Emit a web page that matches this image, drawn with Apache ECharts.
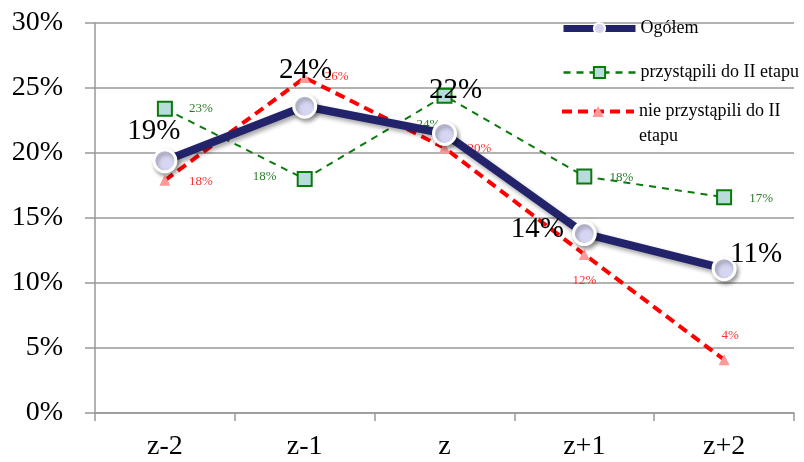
<!DOCTYPE html>
<html><head><meta charset="utf-8">
<script src="https://cdn.jsdelivr.net/npm/echarts@6/dist/echarts.min.js"></script>
<style>html,body{margin:0;padding:0;background:#fff}#c{width:804px;height:462px}</style>
</head><body><div id="c"></div>
<script>
const categories = ['z-2', 'z-1', 'z', 'z+1', 'z+2'];
const yTicks = [0, 5, 10, 15, 20, 25, 30];
const seriesNames = ['Ogółem', 'przystąpili do II etapu', 'nie przystąpili do II\netapu'];
const ogolem = [19.4, 23.6, 21.5, 13.8, 11.1];
const przystapili = [23.4, 18.0, 24.4, 18.2, 16.6];
const nieprzystapili = [17.9, 25.8, 20.4, 12.2, 4.1];

const serif = '"Liberation Serif", "DejaVu Serif", serif';
const fmt = p => Math.round(p.value) + '%';

const bigOff = [[-11, -29], [1, -36], [11, -43], [-47, -4], [32, -14]];
const greenOff = [[36, 0], [-40, -2], [-16, 29], [37, 1], [37, 1]];
const redOff = [[36, 1], [32, -1], [35, 1], [0, 26], [6, -24]];

function mk(arr, offs) {
  return arr.map((v, i) => ({ value: v, label: { offset: offs[i] } }));
}

const legendText = { fontFamily: serif, fontSize: 18, color: '#000', lineHeight: 25 };

const chart = echarts.init(document.getElementById('c'), null, { renderer: 'canvas' });
chart.setOption({
  animation: false,
  backgroundColor: '#fff',
  grid: { left: 95, top: 23, width: 699, height: 390, containLabel: false },
  legend: [
    {
      orient: 'vertical', left: 560, top: 16, padding: 0, itemWidth: 72, itemHeight: 14, itemGap: 19,
      textStyle: legendText,
      data: [
        { name: seriesNames[0], lineStyle: { width: 7 } },
        { name: seriesNames[1], lineStyle: { width: 2.5 } }
      ]
    },
    {
      orient: 'vertical', left: 560, top: 74, padding: 0, itemWidth: 72, itemHeight: 14, itemGap: 19,
      textStyle: legendText,
      formatter: n => '\n' + n,
      data: [
        { name: seriesNames[2], lineStyle: { width: 4 } }
      ]
    }
  ],
  xAxis: {
    type: 'category', data: categories, boundaryGap: true,
    axisLine: { lineStyle: { color: '#999', width: 1.5 } },
    axisTick: { show: true, length: 8, lineStyle: { color: '#999', width: 1.5 } },
    axisLabel: { fontFamily: serif, fontSize: 28, color: '#000', margin: 20 }
  },
  yAxis: {
    type: 'value', min: 0, max: 30, interval: 5,
    axisLine: { show: true, lineStyle: { color: '#999', width: 1.5 } },
    axisTick: { show: true, length: 10, lineStyle: { color: '#999', width: 1.5 } },
    splitLine: { lineStyle: { color: '#999', width: 1.5 } },
    axisLabel: { fontFamily: serif, fontSize: 28, color: '#000', margin: 32, formatter: v => yTicks.includes(v) ? v + '%' : '' }
  },
  series: [
    {
      name: seriesNames[1], type: 'line', z: 3,
      data: mk(przystapili, greenOff),
      lineStyle: { color: '#0a7a0a', width: 2, type: [7, 6] },
      symbol: 'rect', symbolSize: 14,
      itemStyle: { color: '#b8dcdc', borderColor: '#0a7a0a', borderWidth: 2 },
      label: { show: true, position: 'inside', formatter: fmt, fontFamily: serif, fontSize: 13, color: '#2a7a2a' }
    },
    {
      name: seriesNames[2], type: 'line', z: 4,
      data: mk(nieprzystapili, redOff),
      lineStyle: { color: '#ff0000', width: 4, type: [10, 6] },
      symbol: 'triangle', symbolSize: 11,
      itemStyle: { color: '#ff9999', borderWidth: 0 },
      label: { show: true, position: 'inside', formatter: fmt, fontFamily: serif, fontSize: 13, color: '#ff3030' }
    },
    {
      name: seriesNames[0], type: 'line', z: 5,
      data: mk(ogolem, bigOff),
      lineStyle: { color: '#23236b', width: 8, shadowColor: 'rgba(0,0,0,0.35)', shadowBlur: 4, shadowOffsetX: 2, shadowOffsetY: 3 },
      symbol: 'circle', symbolSize: 22,
      itemStyle: { color: '#d6d6f2', borderColor: '#fff', borderWidth: 3, shadowColor: 'rgba(0,0,0,0.35)', shadowBlur: 4, shadowOffsetX: 2, shadowOffsetY: 3 },
      label: { show: true, position: 'inside', formatter: fmt, fontFamily: serif, fontSize: 29, color: '#000' }
    }
  ]
});
</script></body></html>
